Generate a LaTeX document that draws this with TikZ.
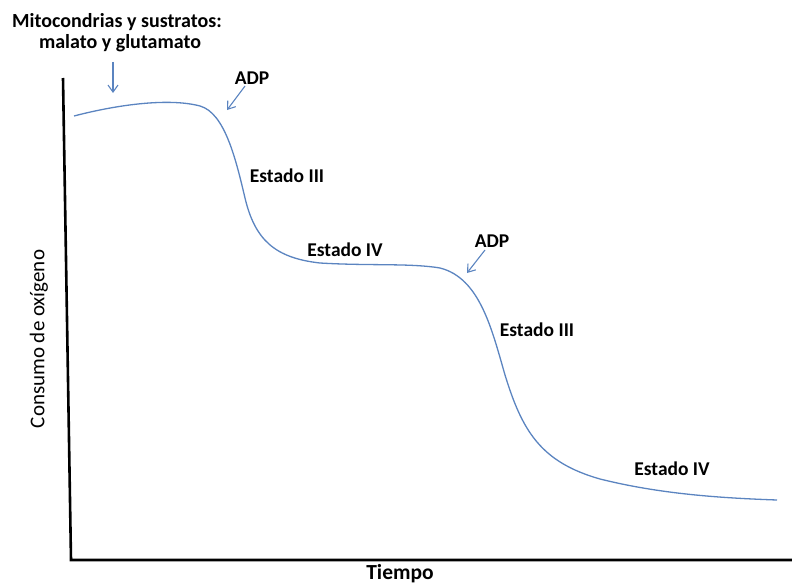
\documentclass[tikz,border=0pt]{standalone}
\usepackage{fontspec}
\setmainfont{Carlito}
\usetikzlibrary{arrows.meta}
\definecolor{curveblue}{HTML}{5B84C0}
\tikzset{
  lbl/.style={font=\fontsize{19.5}{22}\selectfont\bfseries, inner sep=0pt},
  ptr/.style={draw=curveblue, line width=1.1pt, -{Straight Barb[length=7pt,width=10pt]}},
  axis/.style={draw=black, line width=2.6pt},
  trace/.style={draw=curveblue, line width=1.3pt}
}
\begin{document}
\begin{tikzpicture}[x=1pt,y=-1pt]
\useasboundingbox (0,0) rectangle (792,586);
% axes
\coordinate (ytop) at (63,78);
\coordinate (orig) at (71,560);
\coordinate (xend) at (792,560);
\draw[axis] (ytop) -- (orig) -- (xend);
\node[font=\fontsize{21.5}{25}\selectfont\bfseries, inner sep=0pt] (tiempo) at (400,574) {Tiempo};
\node[font=\fontsize{21}{24}\selectfont, rotate=90, inner sep=0pt] (consumo) at (39,339) {Consumo de oxígeno};
% curve
\coordinate (c0) at (74,116);
\draw[trace] (c0) .. controls (120,104) and (170,98) .. (200,106)
  .. controls (225,113) and (236,160) .. (245,198)
  .. controls (255,240) and (275,258) .. (320,263)
  .. controls (370,266) and (410,263) .. (440,268)
  .. controls (480,278) and (492,330) .. (505,375)
  .. controls (522,430) and (540,462) .. (600,479)
  .. controls (660,494) and (720,498) .. (777,500);
% top label and arrow
\node[font=\fontsize{20}{23}\selectfont\bfseries, inner sep=0pt] (mito) at (117,22) {Mitocondrias y sustratos:};
\node[font=\fontsize{20}{23}\selectfont\bfseries, inner sep=0pt] (mal) at (120,43) {malato y glutamato};
\coordinate (a0s) at (113,62);
\coordinate (a0e) at (113,93);
\draw[ptr] (a0s) -- (a0e);
% first ADP
\node[lbl] (adp1) at (252,78) {ADP};
\coordinate (a1s) at (245,86);
\coordinate (a1e) at (227,110);
\draw[ptr] (a1s) -- (a1e);
\node[lbl] (e3a) at (287,176) {Estado III};
\node[lbl] (e4a) at (345,250) {Estado IV};
% second ADP
\node[lbl] (adp2) at (492,241) {ADP};
\coordinate (a2s) at (485,250);
\coordinate (a2e) at (467,273);
\draw[ptr] (a2s) -- (a2e);
\node[lbl] (e3b) at (537,330) {Estado III};
\node[lbl] (e4b) at (672,469) {Estado IV};
\end{tikzpicture}
\end{document}
